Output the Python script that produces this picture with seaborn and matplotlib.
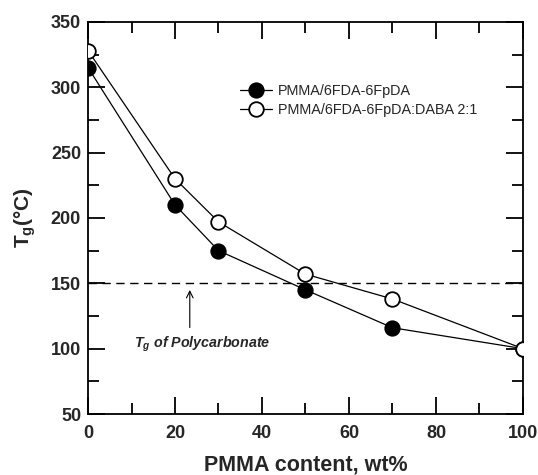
import numpy as np
import pandas as pd
import matplotlib
matplotlib.use("Agg")
import matplotlib.pyplot as plt
import seaborn as sns
from matplotlib.ticker import MultipleLocator

pmma_content = [0, 20, 30, 50, 70, 100]
tg_6fpda = [315, 210, 175, 145, 116, 100]
tg_6fpda_daba = [328, 230, 197, 157, 138, 100]
series_names = ["PMMA/6FDA-6FpDA", "PMMA/6FDA-6FpDA:DABA 2:1"]
pc_tg = 150

sns.set_theme(style="ticks")
plt.rcParams['font.family'] = ['Liberation Sans', 'DejaVu Sans']
plt.rcParams['mathtext.default'] = 'regular'

fig = plt.figure(figsize=(5.38, 4.75), dpi=100)
ax = fig.add_axes([0.1636, 0.1284, 0.972 - 0.1636, 0.954 - 0.1284])

df1 = pd.DataFrame({"x": pmma_content, "y": tg_6fpda})
df2 = pd.DataFrame({"x": pmma_content, "y": tg_6fpda_daba})

sns.lineplot(data=df1, x="x", y="y", ax=ax, color="black", lw=0.9,
             marker="o", markersize=10.5, markerfacecolor="black",
             markeredgecolor="black", markeredgewidth=1.2,
             label=series_names[0], zorder=3)
sns.lineplot(data=df2, x="x", y="y", ax=ax, color="black", lw=0.9,
             marker="o", markersize=10.5, markerfacecolor="white",
             markeredgecolor="black", markeredgewidth=1.3,
             label=series_names[1], zorder=4)

ax.axhline(pc_tg, color="black", lw=1.0, ls=(0, (6, 4)), zorder=1)
ax.annotate("", xy=(23.4, 147), xytext=(23.4, 114),
            arrowprops=dict(arrowstyle="->", color="black", lw=0.8))
ax.text(26.2, 103, r"T$_g$ of Polycarbonate", ha="center", va="center",
        fontsize=10.3, fontstyle="italic", fontweight="bold")

ax.set_xlim(0, 100)
ax.set_ylim(50, 350)
ax.xaxis.set_major_locator(MultipleLocator(20))
ax.xaxis.set_minor_locator(MultipleLocator(10))
ax.yaxis.set_major_locator(MultipleLocator(50))
ax.yaxis.set_minor_locator(MultipleLocator(25))
ax.tick_params(which="both", direction="in", top=True, right=True, width=1.3, color="black")
ax.tick_params(which="major", length=12)
ax.tick_params(which="minor", length=8)
ax.tick_params(axis="both", labelsize=13)
ax.tick_params(axis="x", pad=8)
ax.tick_params(axis="y", pad=5)
for lab in ax.get_xticklabels() + ax.get_yticklabels():
    lab.set_fontweight("bold")
for sp in ax.spines.values():
    sp.set_linewidth(1.3)
    sp.set_color("black")

ax.set_xlabel("PMMA content, wt%", fontsize=15.5, fontweight="bold", labelpad=9)
ax.set_ylabel(r"T$_g$(°C)", fontsize=15, fontweight="bold", labelpad=9)

leg = ax.legend(loc="upper left", bbox_to_anchor=(0.32, 0.875), frameon=False,
                fontsize=10.4, handlelength=2.2, handletextpad=0.4, labelspacing=0.35)

fig.savefig("out.png", dpi=100)
